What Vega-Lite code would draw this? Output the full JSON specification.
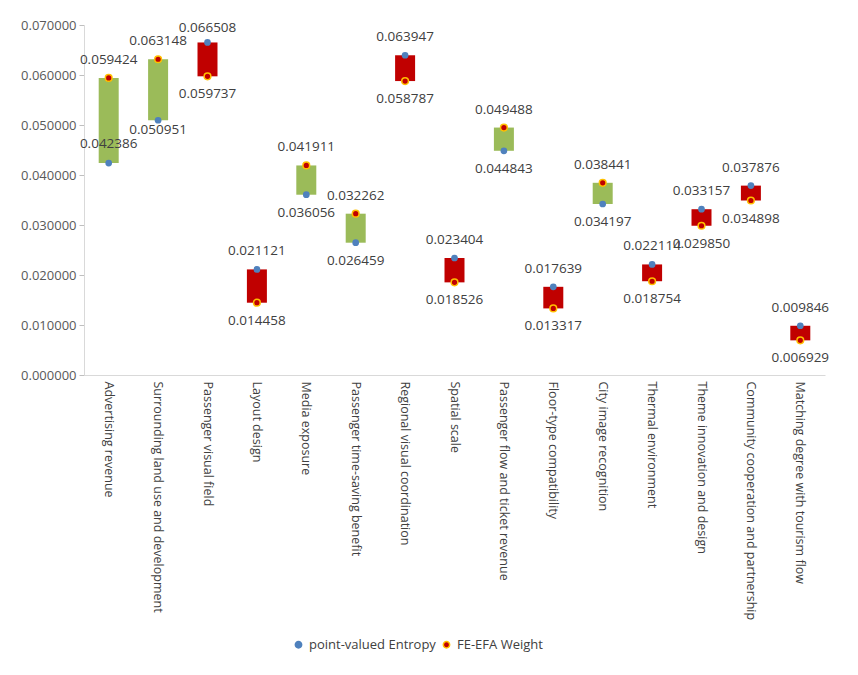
{
  "$schema": "https://vega.github.io/schema/vega-lite/v6.json",
  "width": 741,
  "height": 350,
  "padding": {"left": 20, "top": 19, "right": 20, "bottom": 10},
  "background": "white",
  "config": {
    "font": "Open Sans",
    "view": {"stroke": null},
    "axis": {"grid": false, "labelColor": "#404040", "labelFontSize": 12.5, "domainColor": "#D9D9D9", "tickColor": "#BFBFBF"}
  },
  "data": {
    "values": [
      {"factor": "Advertising revenue", "entropy": 0.042386, "fe": 0.059424},
      {"factor": "Surrounding land use and development", "entropy": 0.050951, "fe": 0.063148},
      {"factor": "Passenger visual field", "entropy": 0.066508, "fe": 0.059737},
      {"factor": "Layout design", "entropy": 0.021121, "fe": 0.014458},
      {"factor": "Media exposure", "entropy": 0.036056, "fe": 0.041911},
      {"factor": "Passenger time-saving benefit", "entropy": 0.026459, "fe": 0.032262},
      {"factor": "Regional visual coordination", "entropy": 0.063947, "fe": 0.058787},
      {"factor": "Spatial scale", "entropy": 0.023404, "fe": 0.018526},
      {"factor": "Passenger flow and ticket revenue", "entropy": 0.044843, "fe": 0.049488},
      {"factor": "Floor-type compatibility", "entropy": 0.017639, "fe": 0.013317},
      {"factor": "City image recognition", "entropy": 0.034197, "fe": 0.038441},
      {"factor": "Thermal environment", "entropy": 0.022114, "fe": 0.018754},
      {"factor": "Theme innovation and design", "entropy": 0.033157, "fe": 0.02985},
      {"factor": "Community cooperation and partnership", "entropy": 0.037876, "fe": 0.034898},
      {"factor": "Matching degree with tourism flow", "entropy": 0.009846, "fe": 0.006929}
    ]
  },
  "transform": [
    {"calculate": "max(datum.entropy, datum.fe)", "as": "hi"},
    {"calculate": "min(datum.entropy, datum.fe)", "as": "lo"}
  ],
  "encoding": {
    "x": {
      "field": "factor", "type": "nominal", "sort": null, "title": null,
      "scale": {"paddingInner": 0, "paddingOuter": 0},
      "axis": {"labelAngle": 90, "ticks": false, "labelPadding": 6, "labelLimit": 300, "labelAlign": "left", "labelBaseline": "middle", "labelFontSize": 12.5}
    },
    "y": {
      "type": "quantitative", "title": null,
      "scale": {"domain": [0, 0.07], "nice": false},
      "axis": {"format": ".6f", "values": [0, 0.01, 0.02, 0.03, 0.04, 0.05, 0.06, 0.07], "labelOverlap": false, "labelColor": "#595959", "labelFontSize": 13, "tickSize": 5, "labelPadding": 3}
    }
  },
  "layer": [
    {
      "mark": {"type": "bar", "width": 20},
      "encoding": {
        "y": {"field": "lo", "type": "quantitative"},
        "y2": {"field": "hi"},
        "color": {
          "condition": {"test": "datum.fe > datum.entropy", "value": "#9BBB59"},
          "value": "#C00000"
        }
      }
    },
    {
      "transform": [{"filter": "datum.factor != 'Passenger visual field'"}],
      "mark": {"type": "text", "dy": -18, "fontSize": 13.5, "color": "#404040", "baseline": "middle"},
      "encoding": {
        "y": {"field": "hi", "type": "quantitative"},
        "text": {"field": "hi", "type": "quantitative", "format": ".6f"}
      }
    },
    {
      "transform": [{"filter": "datum.factor == 'Passenger visual field'"}],
      "mark": {"type": "text", "dy": -14, "fontSize": 13.5, "color": "#404040", "baseline": "middle"},
      "encoding": {
        "y": {"field": "hi", "type": "quantitative"},
        "text": {"field": "hi", "type": "quantitative", "format": ".6f"}
      }
    },
    {
      "transform": [{"filter": "datum.factor != 'Advertising revenue' && datum.factor != 'Surrounding land use and development'"}],
      "mark": {"type": "text", "dy": 18, "fontSize": 13.5, "color": "#404040", "baseline": "middle"},
      "encoding": {
        "y": {"field": "lo", "type": "quantitative"},
        "text": {"field": "lo", "type": "quantitative", "format": ".6f"}
      }
    },
    {
      "transform": [{"filter": "datum.factor == 'Surrounding land use and development'"}],
      "mark": {"type": "text", "dy": 10, "fontSize": 13.5, "color": "#404040", "baseline": "middle"},
      "encoding": {
        "y": {"field": "lo", "type": "quantitative"},
        "text": {"field": "lo", "type": "quantitative", "format": ".6f"}
      }
    },
    {
      "transform": [{"filter": "datum.factor == 'Advertising revenue'"}],
      "mark": {"type": "text", "dy": -19, "fontSize": 13.5, "color": "#404040", "baseline": "middle"},
      "encoding": {
        "y": {"field": "lo", "type": "quantitative"},
        "text": {"field": "lo", "type": "quantitative", "format": ".6f"}
      }
    },
    {
      "transform": [{"fold": ["entropy", "fe"], "as": ["series", "value"]}],
      "mark": {"type": "point", "filled": true, "size": 45, "opacity": 1},
      "encoding": {
        "y": {"field": "value", "type": "quantitative"},
        "color": {
          "field": "series", "type": "nominal",
          "scale": {"domain": ["entropy", "fe"], "range": ["#4F81BD", "#C00000"]},
          "legend": {
            "title": null, "orient": "none", "direction": "horizontal",
            "legendX": 208, "legendY": 613,
            "labelExpr": "datum.value == 'entropy' ? 'point-valued Entropy' : 'FE-EFA Weight'",
            "labelFontSize": 13, "labelColor": "#404040", "symbolSize": 40, "columnPadding": 4, "symbolType": "circle"
          }
        },
        "stroke": {
          "field": "series", "type": "nominal",
          "scale": {"domain": ["entropy", "fe"], "range": ["#4F81BD", "#FFC000"]},
          "legend": null
        },
        "strokeWidth": {"condition": {"test": "datum.series == 'fe'", "value": 1.5}, "value": 0}
      }
    }
  ]
}
